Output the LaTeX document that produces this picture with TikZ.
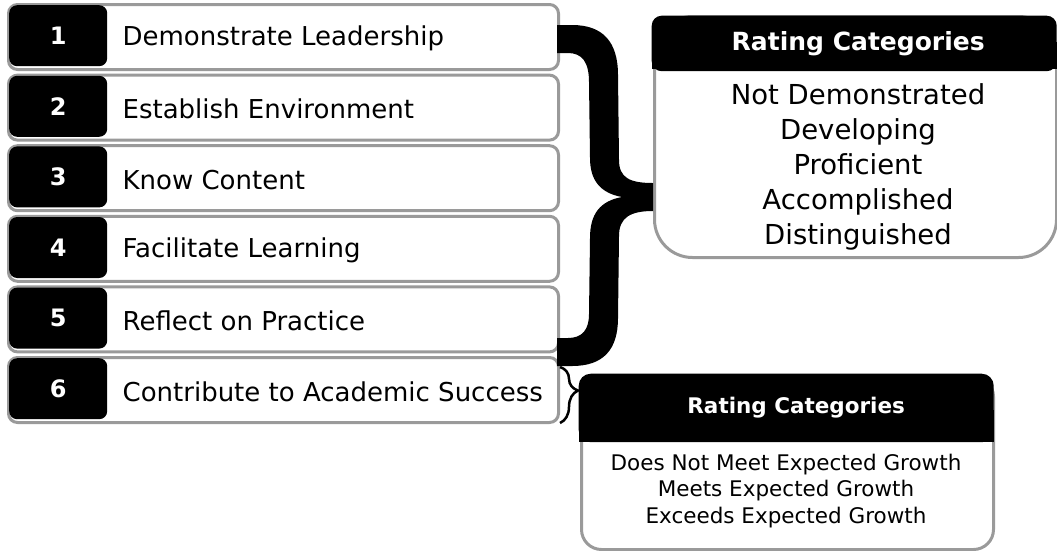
\documentclass[tikz,border=0pt]{standalone}
\usepackage{fontspec}
\setmainfont{DejaVu Sans}
\usetikzlibrary{positioning,decorations.pathreplacing}
\definecolor{framegray}{HTML}{9A9A9A}
\begin{document}
\begin{tikzpicture}[x=1pt,y=-1pt,
    rowbox/.style={draw=framegray, line width=3pt, fill=white, rounded corners=9pt,
      minimum width=550pt, minimum height=65pt, anchor=north west, inner sep=0pt},
    numbox/.style={fill=black, text=white, rounded corners=8pt, minimum width=98pt,
      minimum height=61pt, anchor=north west, inner sep=0pt,
      font=\bfseries\fontsize{24}{28}\selectfont},
    rowtext/.style={inner sep=0pt, yshift=-3pt, font=\fontsize{26}{30}\selectfont},
    catbody/.style={draw=framegray, line width=3pt, fill=white, anchor=north west, inner sep=0pt},
    cathead/.style={fill=black, text=white, anchor=north west, inner sep=0pt},
    catlist/.style={align=center, inner sep=0pt}]
  \useasboundingbox (0,0) rectangle (1057,550);
  % standards
  \node[rowbox] (row1) at (7,3) {};
  \node[numbox] (num1) at (9,5) {1};
  \node[rowtext, right=15pt of num1] (txt1) {Demonstrate Leadership};
  \node[rowbox] (row2) at (7,73.6) {};
  \node[numbox] (num2) at (9,75.6) {2};
  \node[rowtext, right=15pt of num2] (txt2) {Establish Environment};
  \node[rowbox] (row3) at (7,144.2) {};
  \node[numbox] (num3) at (9,146.2) {3};
  \node[rowtext, right=15pt of num3] (txt3) {Know Content};
  \node[rowbox] (row4) at (7,214.8) {};
  \node[numbox] (num4) at (9,216.8) {4};
  \node[rowtext, right=15pt of num4] (txt4) {Facilitate Learning};
  \node[rowbox] (row5) at (7,285.4) {};
  \node[numbox] (num5) at (9,287.4) {5};
  \node[rowtext, right=15pt of num5] (txt5) {Reflect on Practice};
  \node[rowbox] (row6) at (7,356) {};
  \node[numbox] (num6) at (9,358) {6};
  \node[rowtext, right=15pt of num6] (txt6) {Contribute to Academic Success};
  % first rating box
  \node[catbody, minimum width=402pt, minimum height=241pt, rounded corners=38pt] (cat1) at (653,15) {};
  \fill[black] (651.5,42) rectangle (1056.5,69);
  \node[cathead, minimum width=405pt, minimum height=55.5pt, rounded corners=10pt,
    font=\bfseries\fontsize{25}{30}\selectfont] (head1) at (651.5,15.5) {\hspace*{8pt}Rating Categories};
  \node[catlist, font=\fontsize{27.5}{35}\selectfont] (list1) at (858,167)
    {Not Demonstrated\\Developing\\Proficient\\Accomplished\\Distinguished};
  % second rating box
  \node[catbody, minimum width=412pt, minimum height=173pt, rounded corners=20pt] (cat2) at (580,375) {};
  \fill[black] (578.5,410) rectangle (993.5,442);
  \node[cathead, minimum width=415pt, minimum height=68.5pt, rounded corners=12pt,
    font=\bfseries\fontsize{21.5}{26}\selectfont] (head2) at (578.5,373.5) {\hspace*{20pt}Rating Categories};
  \node[catlist, font=\fontsize{21.5}{26.5}\selectfont] (list2) at (786,491)
    {Does Not Meet Expected Growth\\Meets Expected Growth\\Exceeds Expected Growth};
  % braces
  \fill[black] (557,25) -- (572,25) .. controls (603,25) and (618,42) .. (618,75)
    -- (619,160) .. controls (619,178) and (630,183) .. (653,183)
    -- (653,211) .. controls (631,211) and (619,217) .. (619,236)
    -- (618,318) .. controls (618,350) and (603,366) .. (572,366)
    -- (557,366) -- (557,338) -- (568,338) .. controls (582,338) and (589,330) .. (589,314)
    -- (590,238) .. controls (590,214) and (600,201) .. (622,197)
    .. controls (600,193) and (590,180) .. (590,158)
    -- (589,82) .. controls (589,62) and (582,53) .. (568,53) -- (557,53) -- cycle;
  \draw[line width=2.5pt, decorate, decoration={brace, amplitude=18pt, aspect=0.42}]
    ([yshift=-11pt]row6.north east) -- ([yshift=1pt]row6.south east);
\end{tikzpicture}
\end{document}
